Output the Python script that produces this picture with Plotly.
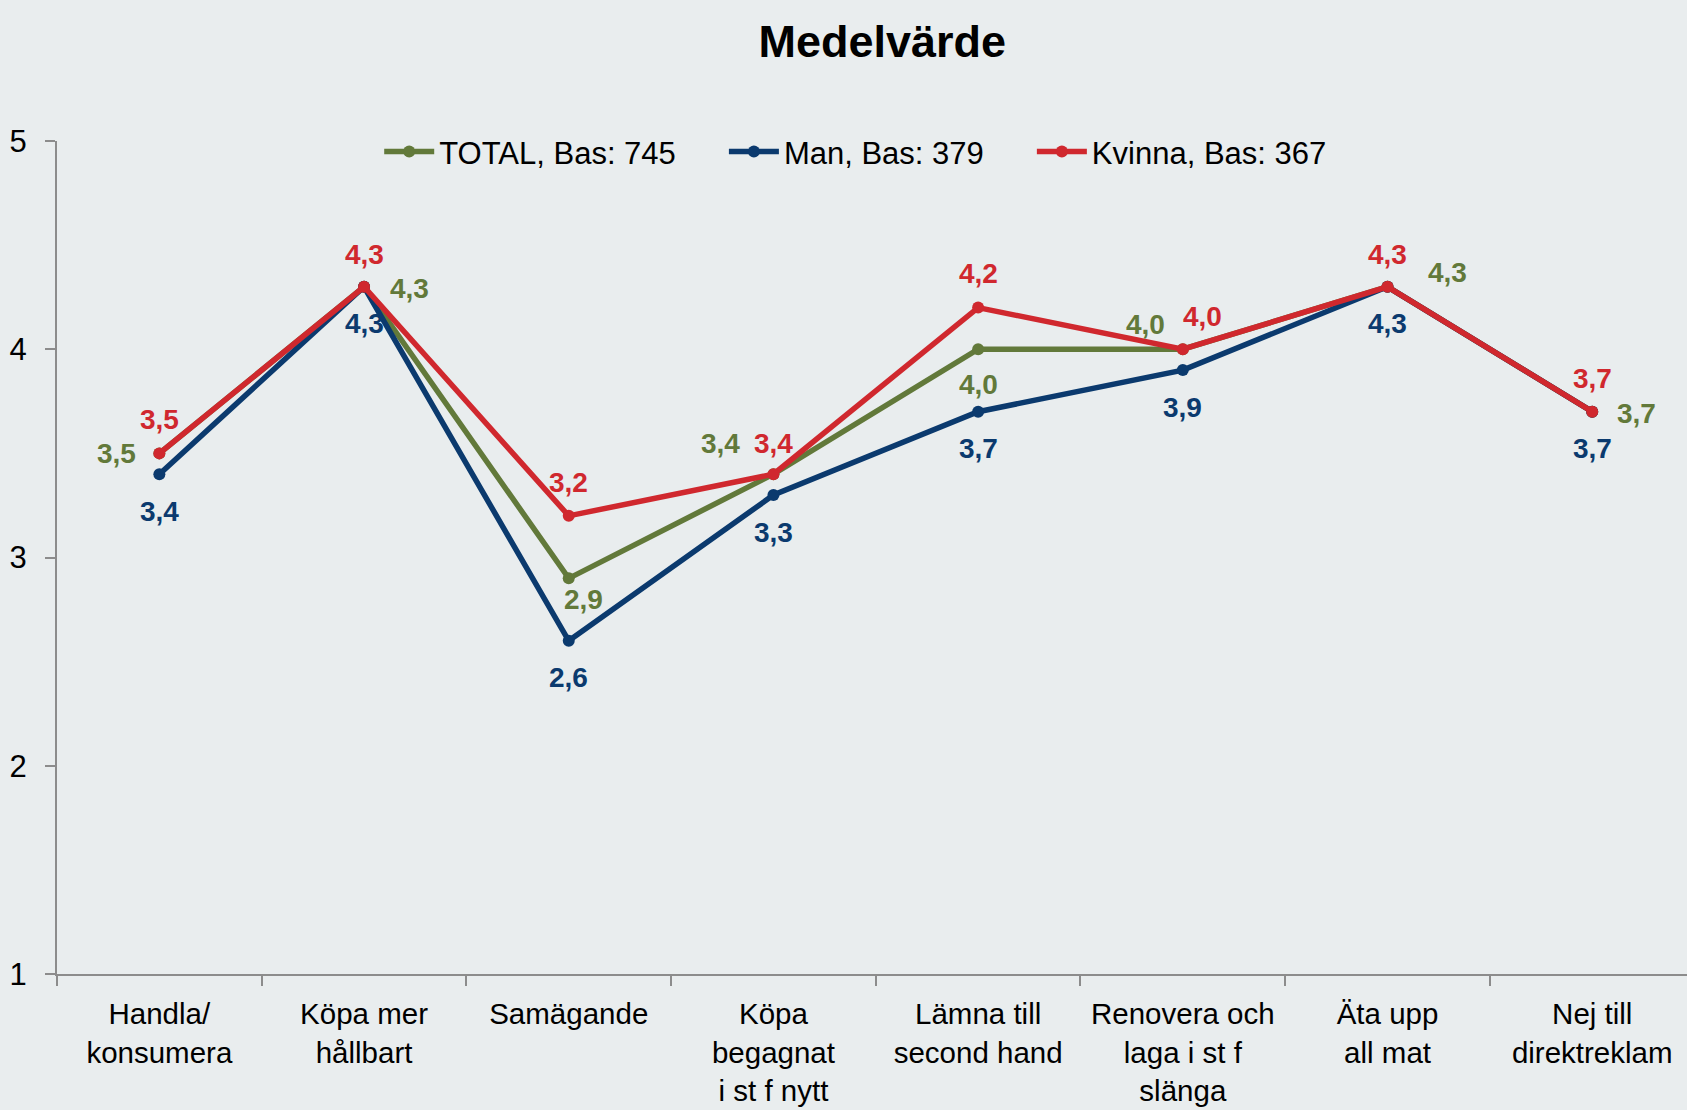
import plotly.graph_objects as go

categories = ["Handla/<br>konsumera", "Köpa mer<br>hållbart", "Samägande",
              "Köpa<br>begagnat<br>i st f nytt", "Lämna till<br>second hand",
              "Renovera och<br>laga i st f<br>slänga", "Äta upp<br>all mat",
              "Nej till<br>direktreklam"]
total = [3.5, 4.3, 2.9, 3.4, 4.0, 4.0, 4.3, 3.7]
man = [3.4, 4.3, 2.6, 3.3, 3.7, 3.9, 4.3, 3.7]
kvinna = [3.5, 4.3, 3.2, 3.4, 4.2, 4.0, 4.3, 3.7]
series_names = ["TOTAL, Bas: 745", "Man, Bas: 379", "Kvinna, Bas: 367"]
y_ticks = [1, 2, 3, 4, 5]

colors = ["#62793A", "#0B3A6E", "#D0282E"]
# label offsets in pixels (dx, dy up positive)
offsets = [
    [(-43, 0), (45, -2), (15, -21), (-53, 31), (0, -35), (-37, 25), (60, 14), (44, -2)],
    [(0, -37)] * 8,
    [(0, 34), (0, 32), (0, 33), (0, 31), (0, 34), (20, 33), (0, 32), (0, 33)],
]
legend_pad = ["\u00a0" * 5, "\u00a0" * 5, ""]

LABEL_FONT = "Liberation Sans, Arial, sans-serif"

fig = go.Figure()
all_series = [total, man, kvinna]
for name, vals, col, pad in zip(series_names, all_series, colors, legend_pad):
    fig.add_trace(go.Scatter(
        x=categories, y=vals, name=name + pad, mode="lines+markers",
        line=dict(color=col, width=5.5),
        marker=dict(color=col, size=12),
    ))

annotations = []
for idx in [0, 2, 1]:
    vals = all_series[idx]
    for i, (c, v) in enumerate(zip(categories, vals)):
        dx, dy = offsets[idx][i]
        annotations.append(dict(
            x=c, y=v, xref="x", yref="y", text="<b>" + f"{v:.1f}".replace(".", ",") + "</b>",
            showarrow=False, xshift=dx, yshift=dy,
            font=dict(family="Liberation Sans, Arial, sans-serif", size=28, color=colors[idx]),
        ))

fig.update_layout(
    width=1687, height=1110,
    paper_bgcolor="#E9EDEE", plot_bgcolor="#E9EDEE",
    margin=dict(l=57, r=0, t=141, b=136),
    title=dict(text="<b>Medelvärde</b>", x=0.523, xanchor="center", y=0.963, yanchor="middle",
               font=dict(family="Liberation Sans, Arial, sans-serif", size=45, color="#000000")),
    legend=dict(orientation="h", x=0.49, xanchor="center", y=0.987, yanchor="middle",
                font=dict(family=LABEL_FONT, size=31, color="#000000"),
                bgcolor="rgba(0,0,0,0)", itemwidth=50),
    showlegend=True,
    annotations=annotations,
)
fig.update_xaxes(type="category", range=[-0.5, 7.463], showline=True, linecolor="#8C8C8C", linewidth=2,
                 ticks="outside", tickson="boundaries", ticklen=10, tickcolor="#8C8C8C", tickwidth=2,
                 showgrid=False, zeroline=False, ticklabelstandoff=13, automargin=False,
                 tickfont=dict(family=LABEL_FONT, size=29.5, color="#000000"))
fig.update_yaxes(range=[1, 5], tickvals=y_ticks, showline=True, linecolor="#8C8C8C", linewidth=2,
                 ticks="outside", ticklen=10, tickcolor="#8C8C8C", tickwidth=2,
                 showgrid=False, zeroline=False, ticklabelstandoff=12, automargin=False,
                 tickfont=dict(family=LABEL_FONT, size=31, color="#000000"))

fig.write_html("out.html", config={"displayModeBar": False},
               post_script="document.body.style.margin='0';document.body.style.padding='0';")
